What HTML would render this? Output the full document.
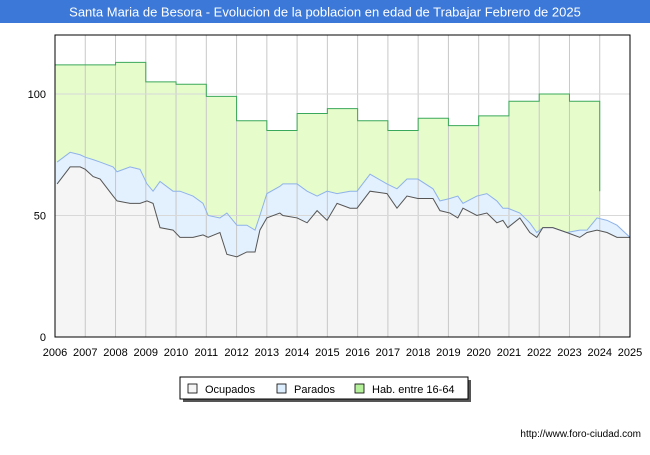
<!DOCTYPE html>
<html><head><meta charset="utf-8"><style>
body{margin:0;background:#fff;font-family:"Liberation Sans",sans-serif}
</style></head><body>
<svg id="c" width="650" height="450" xmlns="http://www.w3.org/2000/svg" style="font-family:'Liberation Sans',sans-serif">
<rect x="0" y="0" width="650" height="450" fill="#fff"/>
<rect x="0" y="0" width="650" height="23" fill="#3b78d8"/>
<text x="325" y="16.5" text-anchor="middle" font-size="13" fill="#fff">Santa Maria de Besora - Evolucion de la poblacion en edad de Trabajar Febrero de 2025</text>
<g id="plot"></g>
<g>
<rect x="183" y="380" width="288" height="22" fill="#555" />
<rect x="180" y="377" width="288" height="22" fill="#fff" stroke="#000" stroke-width="1"/>
<rect x="188" y="384" width="9" height="9" fill="#f5f5f5" stroke="#000" stroke-width="0.8"/>
<text x="205" y="393" font-size="11">Ocupados</text>
<rect x="277" y="384" width="9" height="9" fill="#ddeeff" stroke="#000" stroke-width="0.8"/>
<text x="294" y="393" font-size="11">Parados</text>
<rect x="355" y="384" width="9" height="9" fill="#b5f09a" stroke="#000" stroke-width="0.8"/>
<text x="372" y="393" font-size="11">Hab. entre 16-64</text>
</g>
<text x="641" y="437" text-anchor="end" font-size="10" fill="#000">http://www.foro-ciudad.com</text>
</svg>
<script>
const years=[2006.07,2006.5,2006.83,2007.0,2007.26,2007.49,2007.92,2008.05,2008.48,2008.81,2009.04,2009.24,2009.47,2009.9,2010.13,2010.56,2010.89,2011.06,2011.45,2011.68,2012.01,2012.34,2012.61,2012.77,2013.0,2013.43,2013.53,2014.0,2014.33,2014.66,2014.99,2015.32,2015.75,2015.98,2016.41,2016.97,2017.3,2017.63,2017.99,2018.49,2018.72,2019.05,2019.31,2019.48,2019.94,2020.27,2020.6,2020.8,2020.96,2021.36,2021.69,2021.92,2022.12,2022.45,2022.91,2023.34,2023.58,2023.91,2024.24,2024.57,2025.0];
const ocupados=[63,70,70,69,66,65,58,56,55,55,56,55,45,44,41,41,42,41,43,34,33,35,35,44,49,51,50,49,47,52,48,55,53,53,60,59,53,58,57,57,52,51,49,53,50,51,47,48,45,49,43,41,45,45,43,41,43,44,43,41,41];
const parados=[9,6,5,5,7,7,12,12,15,14,7,5,19,16,19,17,13,9,6,17,13,11,9,6,10,11,13,14,13,6,12,4,7,7,7,4,8,7,8,4,4,6,9,2,8,8,9,5,8,2,4,2,0,0,0,3,1,5,5,5,0];
const habYears=[2006,2007,2008,2009,2010,2011,2012,2013,2014,2015,2016,2017,2018,2019,2020,2021,2022,2023];
const hab=[112,112,113,105,104,99,89,85,92,94,89,85,90,87,91,97,100,97];
const habLast=60;
const yTicks=[0,50,100];
const xTicks=[2006,2007,2008,2009,2010,2011,2012,2013,2014,2015,2016,2017,2018,2019,2020,2021,2022,2023,2024,2025];
const X0=55,X1=630,Y0=337,Y1=35;
const x=t=>X0+(t-2006)/19*(X1-X0);
const y=v=>Y0-v*2.43;
const NS='http://www.w3.org/2000/svg';
const g=document.getElementById('plot');
function mk(tag,at){const e=document.createElementNS(NS,tag);for(const k in at)e.setAttribute(k,at[k]);g.appendChild(e);return e;}
let e=mk('rect',{x:X0,y:Y1,width:X1-X0,height:Y0-Y1,fill:'#fff'});


// hab area
let hp=`M${x(2006)},${y(0)}`;
habYears.forEach((t,i)=>{hp+=` L${x(t)},${y(hab[i])} L${x(t+1)},${y(hab[i])}`;});
const hEnd=habYears[habYears.length-1]+1;
hp+=` L${x(hEnd)},${y(habLast)} L${x(hEnd)},${y(0)} Z`;
e=mk('path',{d:hp,fill:'#e6fccb'});


let hl=`M${x(2006)},${y(hab[0])}`;
habYears.forEach((t,i)=>{hl+=` L${x(t)},${y(hab[i])} L${x(t+1)},${y(hab[i])}`;});
hl+=` L${x(hEnd)},${y(habLast)}`;
// totals
const tot=ocupados.map((v,i)=>v+parados[i]);
let tp=`M${x(years[0])},${y(0)}`;years.forEach((t,i)=>tp+=` L${x(t)},${y(tot[i])}`);tp+=` L${x(years[years.length-1])},${y(0)} Z`;
e=mk('path',{d:`M${x(2006)},${y(0)} L${x(2006)},${y(tot[0])} `+tp.slice(1).replace(/^[^L]*/,'')+'',fill:'#e3f0fd'});


let op=`M${x(2006)},${y(0)} L${x(2006)},${y(ocupados[0])}`;years.forEach((t,i)=>op+=` L${x(t)},${y(ocupados[i])}`);op+=` L${x(years[years.length-1])},${y(0)} Z`;
e=mk('path',{d:op,fill:'#f5f5f5'});


// grid
xTicks.forEach(t=>{const l=mk('line',{x1:x(t),x2:x(t),y1:Y1,y2:Y0,stroke:'#c8c8c8','stroke-width':1});


const tx=mk('text',{x:x(t),y:356,'text-anchor':'middle','font-size':11});tx.textContent=t;

});
yTicks.forEach(v=>{if(v>0){const l=mk('line',{x1:X0,x2:X1,y1:y(v),y2:y(v),stroke:'#d8d8d8','stroke-width':1});

}
const tx=mk('text',{x:46,y:y(v)+4,'text-anchor':'end','font-size':11});tx.textContent=v;

});
// lines
e=mk('path',{d:hl,fill:'none',stroke:'#3aa85a','stroke-width':1});


let tl='';years.forEach((t,i)=>tl+=(i?' L':'M')+x(t)+','+y(tot[i]));
e=mk('path',{d:tl,fill:'none',stroke:'#8fb2ea','stroke-width':1});


let ol='';years.forEach((t,i)=>ol+=(i?' L':'M')+x(t)+','+y(ocupados[i]));
e=mk('path',{d:ol,fill:'none',stroke:'#555','stroke-width':1});


e=mk('rect',{x:X0,y:Y1,width:X1-X0,height:Y0-Y1,fill:'none',stroke:'#000','stroke-width':1});


</script>
</body></html>
